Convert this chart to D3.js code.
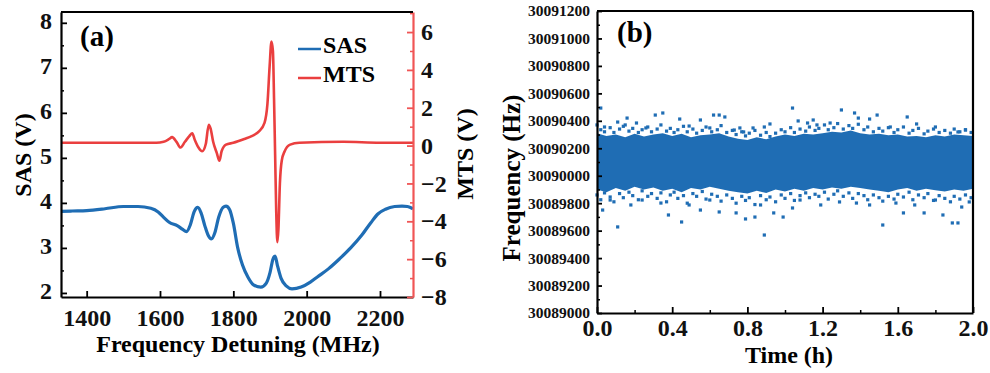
<!DOCTYPE html>
<html>
<head>
<meta charset="utf-8">
<script src="https://cdn.jsdelivr.net/npm/d3@7"></script>
<style>
  html, body { margin: 0; padding: 0; background: #fff; }
  svg { display: block; font-family: "Liberation Serif", "Times New Roman", serif; font-weight: bold; }
</style>
</head>
<body>
<div id="chart"></div>
<script>
// ---- panel (a): saturated absorption (SAS) and modulation transfer (MTS) ----
const sasFreq = [1330, 1360, 1400, 1450, 1500, 1540, 1575, 1595, 1610, 1625, 1648, 1662, 1672, 1683, 1693,
  1703, 1712, 1722, 1732, 1740, 1750, 1760, 1772, 1780, 1790, 1800, 1812, 1825, 1840, 1855, 1875, 1890,
  1900, 1908, 1914, 1920, 1930, 1945, 1960, 1985, 2010, 2030, 2060, 2090, 2120, 2150, 2175, 2195, 2215,
  2240, 2260, 2275, 2290];
const sasVolt = [3.81, 3.82, 3.83, 3.87, 3.92, 3.92, 3.88, 3.80, 3.68, 3.57, 3.49, 3.41, 3.36, 3.52, 3.80,
  3.90, 3.78, 3.50, 3.27, 3.20, 3.35, 3.68, 3.90, 3.93, 3.85, 3.55, 3.00, 2.62, 2.35, 2.18, 2.13, 2.22,
  2.45, 2.75, 2.82, 2.62, 2.33, 2.15, 2.09, 2.13, 2.24, 2.36, 2.54, 2.76, 3.00, 3.28, 3.56, 3.76, 3.86,
  3.92, 3.93, 3.92, 3.87];

const mtsFreq = [1330, 1400, 1500, 1590, 1610, 1625, 1633, 1645, 1656, 1668, 1680, 1688, 1695, 1705, 1715,
  1725, 1733, 1738, 1745, 1755, 1762, 1768, 1780, 1800, 1830, 1850, 1870, 1885, 1893, 1899, 1904, 1908,
  1911, 1914, 1917, 1920, 1923, 1927, 1932, 1940, 1955, 1980, 2100, 2200, 2290];
const mtsVolt = [0.15, 0.15, 0.15, 0.15, 0.2, 0.35, 0.45, 0.2, -0.1, 0.2, 0.5, 0.65, 0.3, -0.1, -0.3,
  0.1, 1.1, 0.9, 0.2, -0.4, -0.8, -0.3, 0.05, 0.15, 0.35, 0.5, 0.75, 1.2, 2.2, 4.2, 5.5, 5.0,
  2.5, -0.5, -3.5, -5.1, -4.4, -2.0, -0.8, -0.3, 0.05, 0.15, 0.2, 0.15, 0.15];

const aXTicks = [1400, 1600, 1800, 2000, 2200];
const aLeftTicks = [2, 3, 4, 5, 6, 7, 8];
const aRightTicks = [-8, -6, -4, -2, 0, 2, 4, 6];

// ---- panel (b): beat frequency over two hours ----
const bBase = 30090000;
const bandTime = [0, 0.05, 0.1, 0.15, 0.2, 0.25, 0.3, 0.35, 0.4, 0.45, 0.5, 0.55, 0.6, 0.65, 0.7, 0.75, 0.8,
  0.85, 0.9, 0.95, 1.0, 1.05, 1.1, 1.15, 1.2, 1.25, 1.3, 1.35, 1.4, 1.45, 1.5, 1.55, 1.6, 1.65, 1.7, 1.75,
  1.8, 1.85, 1.9, 1.95, 2.0];
// upper / lower edge of the dense band, Hz above 30090000
const bandTop = [310, 290, 300, 280, 305, 285, 300, 310, 290, 305, 280, 295, 300, 310, 285, 270, 260,
  280, 265, 285, 300, 290, 305, 300, 310, 320, 315, 330, 310, 300, 305, 295, 300, 285, 290, 280,
  295, 285, 300, 295, 290];
const bandLow = [-100, -120, -90, -110, -80, -100, -85, -110, -95, -120, -90, -100, -80, -95, -110, -120, -130,
  -110, -125, -100, -115, -95, -110, -90, -100, -85, -95, -80, -90, -100, -110, -120, -100, -90, -110, -95,
  -105, -115, -100, -110, -95];

// fringe points just outside the band edges
const topFringeTime = [0.00, 0.02, 0.04, 0.07, 0.09, 0.12, 0.14, 0.17, 0.19, 0.22, 0.24, 0.27, 0.29, 0.32,
  0.34, 0.37, 0.39, 0.41, 0.43, 0.46, 0.48, 0.51, 0.53, 0.56, 0.58, 0.61, 0.64, 0.66, 0.69, 0.72, 0.74,
  0.77, 0.79, 0.81, 0.84, 0.87, 0.90, 0.92, 0.95, 0.98, 1.00, 1.03, 1.05, 1.08, 1.11, 1.13, 1.16, 1.18,
  1.21, 1.23, 1.26, 1.28, 1.31, 1.34, 1.36, 1.39, 1.42, 1.44, 1.47, 1.50, 1.52, 1.55, 1.58, 1.60, 1.63,
  1.66, 1.68, 1.71, 1.74, 1.76, 1.79, 1.82, 1.85, 1.88, 1.90, 1.93, 1.96, 1.99];
const topFringeFreq = [370, 335, 320, 350, 315, 340, 360, 325, 345, 315, 335, 355, 320, 340,
  370, 325, 345, 315, 335, 360, 320, 340, 310, 330, 355, 320, 335, 365, 315, 330, 300,
  320, 290, 310, 330, 295, 315, 285, 310, 335, 320, 350, 315, 340, 325, 355, 330, 345,
  370, 335, 350, 380, 340, 365, 345, 375, 335, 355, 320, 345, 325, 350, 315, 335, 355,
  310, 330, 345, 305, 325, 340, 315, 330, 310, 340, 320, 335, 315];
const lowFringeTime = topFringeTime;
const lowFringeFreq = [-140, -175, -125, -155, -190, -130, -160, -120, -145, -175, -110, -150, -130, -165,
  -125, -190, -140, -120, -165, -145, -200, -130, -150, -115, -170, -135, -150, -185, -140, -165, -200,
  -150, -180, -160, -210, -145, -175, -155, -190, -140, -165, -130, -180, -145, -125, -160, -135, -150,
  -120, -170, -135, -110, -150, -125, -165, -130, -145, -175, -140, -160, -185, -150, -170, -135, -155,
  -120, -175, -140, -160, -130, -180, -145, -165, -190, -150, -170, -140, -160];

// scattered points further out: time (h), Hz above 30090000
const outTime = [0.02, 0.16, 0.31, 0.35, 0.44, 0.55, 0.62, 0.65, 0.68, 0.21, 0.11, 0.04, 0.73, 0.78, 0.76,
  0.83, 0.89, 1.04, 1.07, 1.12, 1.15, 1.17, 1.24, 1.30, 1.37, 1.39, 1.45, 1.49, 1.65, 1.70, 1.92, 0.26,
  0.49, 0.92, 1.56, 1.80, 1.96, 0.15, 0.60,
  0.03, 0.11, 0.18, 0.24, 0.38, 0.45, 0.55, 0.65, 0.74, 0.79, 0.84, 0.89, 0.94, 0.99, 1.04, 1.19, 1.38,
  1.52, 1.63, 1.74, 1.84, 1.89, 1.92, 1.98, 0.07, 0.34, 0.49, 0.60, 0.87, 1.08, 1.29, 1.45, 1.59, 1.69,
  1.80, 1.94];
const outFreq = [493, 420, 442, 457, 413, 406, 442, 442, 428, 384, 391, 355, 333, 319, 348,
  348, 355, 493, 399, 384, 406, 370, 384, 479, 457, 420, 413, 442, 428, 377, 319, 348,
  362, 377, 355, 355, 333, 370, 348,
  -250, -373, -213, -177, -286, -337, -250, -264, -271, -315, -301, -432, -271, -301, -235, -213, -199,
  -359, -271, -271, -286, -344, -344, -191, -177, -199, -213, -177, -213, -177, -191, -213, -199, -213,
  -177, -228];

const bXTicks = [0, 0.4, 0.8, 1.2, 1.6, 2.0];
const bYTicks = d3.range(30089000, 30091201, 200);

const blue = '#1f6db4';
const red = '#ea3f3f';
const redAxis = '#f05555';

const svg = d3.select('#chart').append('svg')
  .attr('width', 990).attr('height', 373);

// axis groups get their own font from d3; let them inherit the serif instead
function plain(g) {
  g.attr('font-family', null).attr('font-size', null);
  g.select('.domain').attr('stroke-width', 2.2);
  g.selectAll('.tick line').attr('stroke-width', 1.8);
  g.selectAll('.tick text').attr('fill', '#111');
}

// ================= panel (a) =================
const ax = { left: 61, right: 413, top: 12, bottom: 297 };
const xA = d3.scaleLinear().domain([1330, 2290]).range([ax.left, ax.right]);
const yL = d3.scaleLinear().domain([1.91, 8.24]).range([ax.bottom, ax.top]);
const yR = d3.scaleLinear().domain([-8, 7.06]).range([ax.bottom, ax.top]);

const ga = svg.append('g');

const sasData = sasFreq.map((f, i) => [f, sasVolt[i]]);
const mtsData = mtsFreq.map((f, i) => [f, mtsVolt[i]]);

ga.append('path')
  .datum(mtsData)
  .attr('fill', 'none').attr('stroke', red).attr('stroke-width', 2.6)
  .attr('d', d3.line().x(d => xA(d[0])).y(d => yR(d[1])).curve(d3.curveMonotoneX));

ga.append('path')
  .datum(sasData)
  .attr('fill', 'none').attr('stroke', blue).attr('stroke-width', 3.2)
  .attr('d', d3.line().x(d => xA(d[0])).y(d => yL(d[1])).curve(d3.curveMonotoneX));

// bottom axis
ga.append('g').attr('transform', `translate(0,${ax.bottom})`)
  .call(d3.axisBottom(xA).tickValues(aXTicks).tickSizeInner(-6).tickSizeOuter(0).tickPadding(12)
    .tickFormat(d3.format('d')))
  .call(plain)
  .attr('font-size', 24);
// left axis
ga.append('g').attr('transform', `translate(${ax.left},0)`)
  .call(d3.axisLeft(yL).tickValues(aLeftTicks).tickSizeInner(-6).tickSizeOuter(0).tickPadding(9)
    .tickFormat(d3.format('d')))
  .call(plain)
  .attr('font-size', 24)
  .call(g => g.selectAll('.tick text').attr('dy', '0.25em'));
ga.append('g').attr('transform', `translate(${ax.left},0)`)
  .call(d3.axisLeft(yL).tickValues(d3.range(2.5, 8, 1)).tickSize(-3).tickFormat(''))
  .call(g => g.select('.domain').remove())
  .call(g => g.selectAll('.tick line').attr('stroke-width', 1.5));
// right axis
ga.append('g').attr('transform', `translate(${ax.right},0)`)
  .call(d3.axisRight(yR).tickValues(aRightTicks).tickSizeInner(-6).tickSizeOuter(0).tickPadding(8)
    .tickFormat(d => d < 0 ? '\u2212' + Math.abs(d) : d))
  .call(plain)
  .attr('font-size', 24)
  .call(g => g.select('.domain').attr('stroke', redAxis))
  .call(g => g.selectAll('.tick line').attr('stroke', redAxis));
ga.append('g').attr('transform', `translate(${ax.right},0)`)
  .call(d3.axisRight(yR).tickValues([-7, -5, -3, -1, 1, 3, 5, 7]).tickSize(-3).tickFormat(''))
  .call(g => g.select('.domain').remove())
  .call(g => g.selectAll('.tick line').attr('stroke', redAxis).attr('stroke-width', 1.5));

// top frame
ga.append('line').attr('x1', ax.left).attr('x2', ax.right).attr('y1', ax.top).attr('y2', ax.top)
  .attr('stroke', '#000').attr('stroke-width', 2.2);

ga.append('text').attr('x', 80).attr('y', 46).attr('font-size', 29).text('(a)');

// legend
[[blue, 'SAS', 49, 53], [red, 'MTS', 78, 82]].forEach(([c, t, ly, ty]) => {
  ga.append('line').attr('x1', 298).attr('x2', 321).attr('y1', ly).attr('y2', ly)
    .attr('stroke', c).attr('stroke-width', 2.5);
  ga.append('text').attr('x', 323).attr('y', ty).attr('font-size', 24).text(t);
});

ga.append('text').attr('x', 238).attr('y', 352).attr('text-anchor', 'middle')
  .attr('font-size', 24).text('Frequency Detuning (MHz)');
ga.append('text').attr('transform', 'translate(31,155) rotate(-90)').attr('text-anchor', 'middle')
  .attr('font-size', 24).text('SAS (V)');
ga.append('text').attr('transform', 'translate(473,154) rotate(-90)').attr('text-anchor', 'middle')
  .attr('font-size', 24).text('MTS (V)');

// ================= panel (b) =================
const bx = { left: 597, right: 973, top: 11, bottom: 313 };
const xB = d3.scaleLinear().domain([0, 2]).range([bx.left, bx.right]);
const yB = d3.scaleLinear().domain([30089000, 30091200]).range([bx.bottom, bx.top]);

const gb = svg.append('g');

const bandData = bandTime.map((t, i) => ({ t, hi: bBase + bandTop[i], lo: bBase + bandLow[i] }));
gb.append('path')
  .datum(bandData)
  .attr('fill', blue)
  .attr('d', d3.area().x(d => xB(d.t)).y0(d => yB(d.lo)).y1(d => yB(d.hi)));

const ptData = topFringeTime.map((t, i) => [t, bBase + topFringeFreq[i]])
  .concat(lowFringeTime.map((t, i) => [t, bBase + lowFringeFreq[i]]))
  .concat(outTime.map((t, i) => [t, bBase + outFreq[i]]));
gb.selectAll('rect.pt')
  .data(ptData)
  .join('rect')
  .attr('class', 'pt')
  .attr('x', d => xB(d[0]) - 1.6)
  .attr('y', d => yB(d[1]) - 1.6)
  .attr('width', 3.2).attr('height', 3.2)
  .attr('fill', blue);

gb.append('g').attr('transform', `translate(0,${bx.bottom})`)
  .call(d3.axisBottom(xB).tickValues(bXTicks).tickSizeInner(-6).tickSizeOuter(0).tickPadding(6)
    .tickFormat(d3.format('.1f')))
  .call(plain)
  .attr('font-size', 24);
gb.append('g').attr('transform', `translate(0,${bx.bottom})`)
  .call(d3.axisBottom(xB).tickValues([0.2, 0.6, 1.0, 1.4, 1.8]).tickSize(-3).tickFormat(''))
  .call(g => g.select('.domain').remove())
  .call(g => g.selectAll('.tick line').attr('stroke-width', 1.5));
gb.append('g').attr('transform', `translate(${bx.left},0)`)
  .call(d3.axisLeft(yB).tickValues(bYTicks).tickSizeInner(-5).tickSizeOuter(0).tickPadding(7)
    .tickFormat(d3.format('d')))
  .call(plain)
  .attr('font-size', 15.5);
gb.append('g').attr('transform', `translate(${bx.left},0)`)
  .call(d3.axisLeft(yB).tickValues(d3.range(30089100, 30091200, 200)).tickSize(-3).tickFormat(''))
  .call(g => g.select('.domain').remove())
  .call(g => g.selectAll('.tick line').attr('stroke-width', 1.5));

gb.append('line').attr('x1', bx.left).attr('x2', bx.right).attr('y1', bx.top).attr('y2', bx.top)
  .attr('stroke', '#000').attr('stroke-width', 2.2);
gb.append('line').attr('x1', bx.right).attr('x2', bx.right).attr('y1', bx.top).attr('y2', bx.bottom)
  .attr('stroke', '#000').attr('stroke-width', 2.2);

gb.append('text').attr('x', 617).attr('y', 42).attr('font-size', 29).text('(b)');
gb.append('text').attr('x', 789).attr('y', 363).attr('text-anchor', 'middle')
  .attr('font-size', 24).text('Time (h)');
gb.append('text').attr('transform', 'translate(520,178) rotate(-90)').attr('text-anchor', 'middle')
  .attr('font-size', 25).text('Frequency (Hz)');
</script>
</body>
</html>
